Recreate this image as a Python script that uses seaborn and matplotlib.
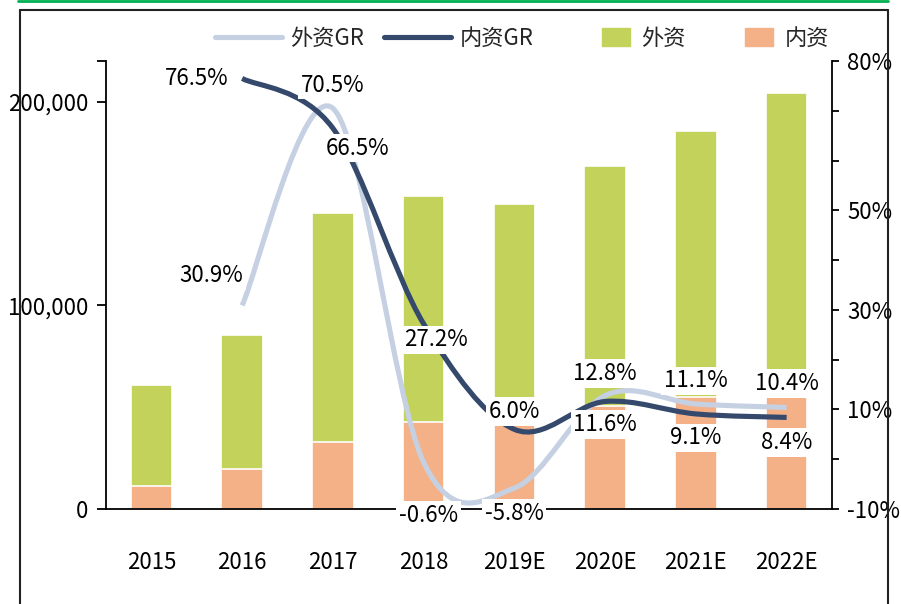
import numpy as np
import pandas as pd
import seaborn as sns
import matplotlib.pyplot as plt
from matplotlib.path import Path
from matplotlib.patches import PathPatch, Patch
from matplotlib.lines import Line2D

# 数据
years = ["2015", "2016", "2017", "2018", "2019E", "2020E", "2021E", "2022E"]
neizi = [11100, 19700, 32900, 42600, 45300, 50600, 55000, 59600]      # 内资
waizi = [50000, 65700, 112300, 110900, 104300, 117700, 130800, 144600]  # 外资
waizi_gr = [30.9, 70.5, -0.6, -5.8, 12.8, 11.1, 10.4]   # 外资GR, 2016-2022E
neizi_gr = [76.5, 66.5, 27.2, 6.0, 11.6, 9.1, 8.4]      # 内资GR, 2016-2022E

df = pd.DataFrame({"year": years, "内资": neizi, "外资": waizi})
df["total"] = df["内资"] + df["外资"]

c_green = "#c3d25a"
c_orange = "#f4b087"
c_light = "#c5d0e2"
c_dark = "#34496c"

sns.set_theme(style="white")
plt.rcParams["font.family"] = ["Noto Sans CJK SC", "DejaVu Sans"]
fs = 16

fig = plt.figure(figsize=(9.01, 6.04), dpi=100)
ax = fig.add_axes([106 / 901, 1 - 509 / 604, 726 / 901, 448 / 604])

# 堆积柱
sns.barplot(data=df, x="year", y="total", color=c_green, width=0.46,
            edgecolor="white", linewidth=1.2, saturation=1, ax=ax)
sns.barplot(data=df, x="year", y="内资", color=c_orange, width=0.46,
            edgecolor="white", linewidth=1.2, saturation=1, ax=ax)
ax.set_xlim(-0.5, 7.5)
ax.set_ylim(0, 220000)
ax.set_yticks([0, 100000, 200000, 220000])
ax.set_yticklabels(["0", "100,000", "200,000", ""])
ax.set(xlabel=None, ylabel=None)
for s in ["top", "right"]:
    ax.spines[s].set_visible(False)
for s in ["left", "bottom"]:
    ax.spines[s].set_color("black")
    ax.spines[s].set_linewidth(1.3)
ax.tick_params(axis="y", direction="out", length=6.5, width=1.3, pad=6, labelsize=fs, colors="black", left=True)
ax.tick_params(axis="x", length=0, pad=30, labelsize=fs, colors="black")

# 增速 (平滑线)
ax2 = ax.twinx()
ax2.set_ylim(-10, 80)
ax2.set_xlim(-0.5, 7.5)
ax2.set_yticks(np.arange(-10, 81, 10))
ax2.set_yticklabels(["-10%", "", "10%", "", "30%", "", "50%", "", "", "80%"])
for s in ["top", "left", "bottom"]:
    ax2.spines[s].set_visible(False)
ax2.spines["right"].set_color("black")
ax2.spines["right"].set_linewidth(1.3)
ax2.tick_params(axis="y", direction="out", length=5, width=1.3, pad=6, labelsize=fs, colors="black", right=True)
ax2.grid(False)
ax.grid(False)


def smooth_path(xs, ys):
    pts = list(zip(xs, ys))
    n = len(pts)
    verts, codes = [pts[0]], [Path.MOVETO]
    for i in range(n - 1):
        p0 = pts[i - 1] if i > 0 else pts[i]
        p1, p2 = pts[i], pts[i + 1]
        p3 = pts[i + 2] if i + 2 < n else pts[i + 1]
        c1 = (p1[0] + (p2[0] - p0[0]) / 6, p1[1] + (p2[1] - p0[1]) / 6)
        c2 = (p2[0] - (p3[0] - p1[0]) / 6, p2[1] - (p3[1] - p1[1]) / 6)
        verts += [c1, c2, p2]
        codes += [Path.CURVE4] * 3
    return Path(verts, codes)


xs = list(range(1, len(years)))
for gr, col in [(waizi_gr, c_light), (neizi_gr, c_dark)]:
    ax2.add_patch(PathPatch(smooth_path(xs, gr), fill=False, edgecolor=col,
                            lw=3.7, capstyle="butt", joinstyle="round", zorder=3))

# 数据标签 (偏移, px)
off_w = [(-31, 30), (0, 23), (5, -53), (0, -25), (0, 22), (0, 23), (0, 24)]
off_n = [(-45, 0), (25, -20), (12, -16), (0, 18), (0, -23), (0, -24), (0, -25)]
box = dict(boxstyle="square,pad=0.12", fc="white", ec="none")
for gr, offs in [(waizi_gr, off_w), (neizi_gr, off_n)]:
    for x, v, (dx, dy) in zip(xs, gr, offs):
        ax2.annotate(f"{v:.1f}%", (x, v), xytext=(dx * 0.72, dy * 0.72),
                     textcoords="offset points", ha="center", va="center",
                     fontsize=fs, color="black", bbox=box, zorder=5)

# 图例
h_lines = [Line2D([], [], color=c_light, lw=3.7), Line2D([], [], color=c_dark, lw=3.7)]
leg1 = fig.legend(h_lines, ["外资GR", "内资GR"], loc="center left",
                  bbox_to_anchor=(215 / 901, 1 - 38 / 604), ncol=2, frameon=False,
                  fontsize=fs, handlelength=3.0, handletextpad=0.4, columnspacing=0.9,
                  borderpad=0, borderaxespad=0)
h_patch = [Patch(color=c_green), Patch(color=c_orange)]
leg2 = fig.legend(h_patch, ["外资", "内资"], loc="center left",
                  bbox_to_anchor=(602 / 901, 1 - 38 / 604), ncol=2, frameon=False,
                  fontsize=fs, handlelength=1.25, handleheight=0.9, handletextpad=0.5,
                  columnspacing=2.7, borderpad=0, borderaxespad=0)

# 外框
fig.add_artist(Line2D([18 / 901, 888 / 901], [1 - 1 / 604] * 2, color="#00b050", lw=2))
fig.add_artist(Line2D([20 / 901, 888 / 901], [1 - 10 / 604] * 2, color="#222222", lw=1.5))
fig.add_artist(Line2D([20 / 901] * 2, [0, 1 - 10 / 604], color="#222222", lw=1.5))
fig.add_artist(Line2D([888 / 901] * 2, [0, 1 - 10 / 604], color="#222222", lw=1.5))

fig.savefig("out.png", dpi=100)
